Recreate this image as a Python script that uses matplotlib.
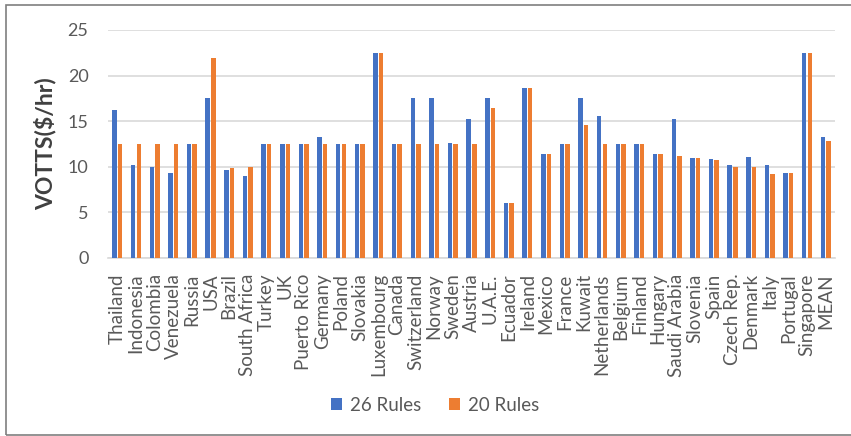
import matplotlib
matplotlib.use("Agg")
import matplotlib.pyplot as plt
from matplotlib.patches import Rectangle
import numpy as np

plt.rcParams['font.family'] = ['Lato', 'DejaVu Sans']

countries = ["Thailand", "Indonesia", "Colombia", "Venezuela", "Russia", "USA",
             "Brazil", "South Africa", "Turkey", "UK", "Puerto Rico", "Germany",
             "Poland", "Slovakia", "Luxembourg", "Canada", "Switzerland", "Norway",
             "Sweden", "Austria", "U.A.E.", "Ecuador", "Ireland", "Mexico", "France",
             "Kuwait", "Netherlands", "Belgium", "Finland", "Hungary", "Saudi Arabia",
             "Slovenia", "Spain", "Czech Rep.", "Denmark", "Italy", "Portugal",
             "Singapore", "MEAN"]
rules26 = [16.2, 10.2, 10.0, 9.3, 12.5, 17.5, 9.7, 9.0, 12.5, 12.5, 12.5, 13.3,
           12.5, 12.5, 22.5, 12.5, 17.5, 17.5, 12.6, 15.2, 17.5, 6.0, 18.6, 11.4,
           12.5, 17.5, 15.6, 12.5, 12.5, 11.4, 15.2, 11.0, 10.9, 10.2, 11.1, 10.2,
           9.3, 22.5, 13.3]
rules20 = [12.5, 12.5, 12.5, 12.5, 12.5, 21.9, 9.9, 10.0, 12.5, 12.5, 12.5, 12.5,
           12.5, 12.5, 22.5, 12.5, 12.5, 12.5, 12.5, 12.5, 16.5, 6.0, 18.6, 11.4,
           12.5, 14.6, 12.5, 12.5, 12.5, 11.4, 11.2, 11.0, 10.7, 10.0, 10.0, 9.2,
           9.3, 22.5, 12.8]

blue = "#4472C4"
orange = "#ED7D31"
grey = "#595959"

fig = plt.figure(figsize=(8.51, 4.36), dpi=100)
ax = fig.add_axes([108 / 851, 1 - 258 / 436, (835 - 108) / 851, (258 - 30) / 436])

x = np.arange(len(countries))
w = 0.24
ax.bar(x - 0.15, rules26, w, color=blue, label="26 Rules", zorder=3)
ax.bar(x + 0.15, rules20, w, color=orange, label="20 Rules", zorder=3)

ax.set_xlim(-0.5, len(countries) - 0.5)
ax.set_ylim(0, 25)
ax.set_yticks([0, 5, 10, 15, 20, 25])
ax.yaxis.grid(True, color="#D9D9D9", linewidth=1.2, zorder=0)
for s in ["top", "right", "left"]:
    ax.spines[s].set_visible(False)
ax.spines["bottom"].set_color("#D9D9D9")
ax.spines["bottom"].set_linewidth(1.2)

ax.set_xticks(x)
ax.set_xticklabels(countries, rotation=90, fontsize=13.5, color=grey)
ax.tick_params(axis="x", length=0, pad=11)
ax.tick_params(axis="y", length=0, pad=14, labelsize=13, labelcolor=grey)

ax.set_ylabel("VOTTS($/hr)", fontsize=16.5, fontweight="bold", color="#404040", labelpad=8)

ax.legend(loc="center", bbox_to_anchor=(435 / 851, 1 - 405 / 436), bbox_transform=fig.transFigure,
          ncol=2, frameon=False, fontsize=13.5, labelcolor=grey, handlelength=0.6,
          handleheight=0.6, columnspacing=1.5, handletextpad=0.4)

fig.patches.append(Rectangle((6 / 851, 1 / 436), 1.0, 430 / 436, transform=fig.transFigure,
                             fill=False, edgecolor="#7F7F7F", linewidth=1.2))

fig.savefig("out.png", dpi=100)
